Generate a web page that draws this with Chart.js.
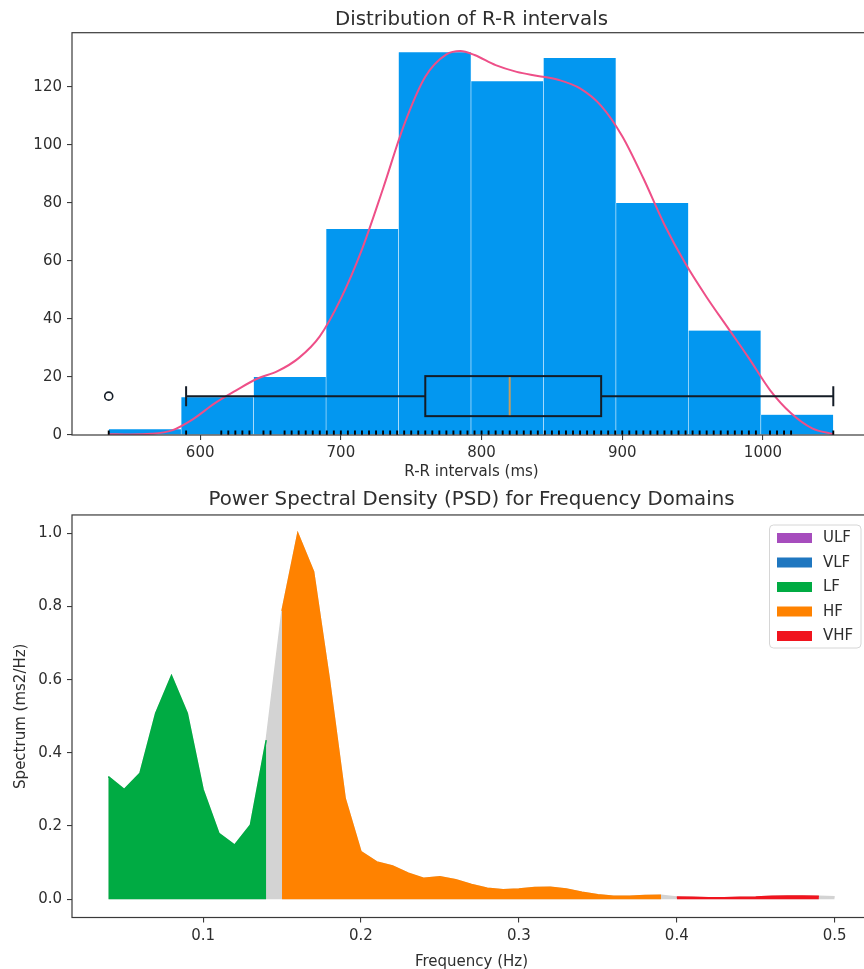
<!DOCTYPE html>
<html>
<head>
<meta charset="utf-8">
<script src="https://cdn.jsdelivr.net/npm/chart.js@4.4.1/dist/chart.umd.min.js"></script>
<style>
  html, body { margin: 0; padding: 0; background: #fff; overflow: hidden; }
  #wrap { position: relative; width: 864px; height: 969px; overflow: hidden; background: #fff; }
  canvas { position: absolute; left: 0; }
  #rr { top: 0; }
  #psd { top: 482px; }
</style>
</head>
<body>
<div id="wrap">
  <canvas id="rr" width="872" height="482"></canvas>
  <canvas id="psd" width="872" height="490"></canvas>
</div>
<script>
// ---------- R-R interval distribution ----------
const binEdges  = [535, 586.5, 638, 689.5, 741, 792.5, 844, 895.5, 947, 998.5, 1050];
const binCounts = [2, 13, 20, 71, 132, 122, 130, 80, 36, 7];

// kernel density estimate, scaled to counts
const kdeX = [535, 550, 565, 580, 595, 610, 625, 640, 655, 670, 685, 700, 715, 730, 745, 760, 775, 785,
              795, 810, 825, 840, 855, 870, 885, 900, 915, 930, 945, 960, 975, 990, 1005, 1020, 1035, 1050];
const kdeY = [0.3, 0.2, 0.4, 1.6, 5.5, 10.8, 15.2, 19.3, 22, 26.5, 34, 47, 64, 85, 107, 123.5, 131.2, 132.4,
              131, 127.5, 125.2, 123.8, 122.4, 119.5, 113.5, 103, 88.5, 72.5, 59, 47.5, 37, 26.5, 15.5, 7.5, 2.3, 0.3];

// box plot summary (ms)
const boxStats = { whiskerLow: 590, q1: 760, median: 820, q3: 885, whiskerHigh: 1050 };
const outliers = [535];

// individual R-R values shown as rug ticks (ms)
const rugValues = [535, 590, 615, 620, 625, 630, 635, 645, 650, 660, 665, 670, 675, 680, 685, 690, 695,
  700, 705, 710, 715, 720, 725, 730, 735, 740, 745, 750, 755, 760, 765, 770, 775, 780, 785, 790, 795,
  800, 805, 810, 815, 820, 825, 830, 835, 840, 845, 850, 855, 860, 865, 870, 875, 880, 885, 890, 895,
  900, 905, 910, 915, 920, 925, 930, 935, 940, 945, 950, 955, 960, 965, 970, 975, 980, 985, 990, 995,
  1005, 1010, 1015, 1020, 1050];

const rrTicksX = [600, 700, 800, 900, 1000];
const rrTicksY = [0, 20, 40, 60, 80, 100, 120];

// ---------- Power spectral density ----------
const freqHz = [0.04, 0.05, 0.06, 0.07, 0.08, 0.09, 0.10, 0.11, 0.12, 0.13, 0.14, 0.15, 0.16, 0.17, 0.18,
  0.19, 0.20, 0.21, 0.22, 0.23, 0.24, 0.25, 0.26, 0.27, 0.28, 0.29, 0.30, 0.31, 0.32, 0.33, 0.34, 0.35,
  0.36, 0.37, 0.38, 0.39, 0.40, 0.41, 0.42, 0.43, 0.44, 0.45, 0.46, 0.47, 0.48, 0.49, 0.50];
const psdPower = [0.335, 0.300, 0.344, 0.508, 0.611, 0.508, 0.300, 0.180, 0.148, 0.203, 0.435, 0.788, 1.000,
  0.895, 0.600, 0.275, 0.130, 0.102, 0.091, 0.071, 0.057, 0.061, 0.053, 0.040, 0.030, 0.026, 0.028, 0.032,
  0.033, 0.028, 0.019, 0.012, 0.008, 0.008, 0.010, 0.011, 0.006, 0.005, 0.004, 0.004, 0.005, 0.006, 0.008,
  0.009, 0.009, 0.008, 0.007];

const bandNames  = ['ULF', 'VLF', 'LF', 'HF', 'VHF'];
const bandLimits = [[0, 0.003], [0.003, 0.04], [0.04, 0.15], [0.15, 0.4], [0.4, 0.5]];

const psdTicksX = [0.1, 0.2, 0.3, 0.4, 0.5];
const psdTicksY = [0.0, 0.2, 0.4, 0.6, 0.8, 1.0];

// ---------- styling ----------
const FONT = "'DejaVu Sans', 'Liberation Sans', sans-serif";
const TEXT = '#2e2e2e';
const AXIS = '#3a3a3a';
const BAND_COLORS = ['#a64dbd', '#1f77c0', '#00ab43', '#ff8200', '#f0141e'];
const REST_COLOR = '#d3d3d3';
const TICK_SIZE = 15;
const LABEL_SIZE = 15;
const TITLE_SIZE = 19.8;

Chart.defaults.font.family = FONT;
Chart.defaults.color = TEXT;

const frame = {
  id: 'frame',
  afterDatasetsDraw(chart, args, o) {
    const { ctx, chartArea: a } = chart;
    ctx.save();
    ctx.strokeStyle = o.color;
    ctx.lineWidth = o.width;
    ctx.strokeRect(a.left, a.top, a.right - a.left, a.bottom - a.top);
    ctx.restore();
  }
};

const rug = {
  id: 'rug',
  afterDatasetsDraw(chart, args, o) {
    const { ctx, scales: { x, y } } = chart;
    const base = y.getPixelForValue(0);
    ctx.save();
    ctx.strokeStyle = o.color;
    ctx.lineWidth = o.width;
    ctx.beginPath();
    rugValues.forEach(v => {
      const px = x.getPixelForValue(v);
      ctx.moveTo(px, base);
      ctx.lineTo(px, base - o.length);
    });
    ctx.stroke();
    ctx.restore();
  }
};

const boxPlot = {
  id: 'boxPlot',
  afterDatasetsDraw(chart, args, o) {
    const { ctx, scales: { x, y } } = chart;
    const px = v => x.getPixelForValue(v);
    const yc = y.getPixelForValue(o.center);
    const yt = y.getPixelForValue(o.center + o.halfHeight);
    const yb = y.getPixelForValue(o.center - o.halfHeight);
    const ct = y.getPixelForValue(o.center + o.halfHeight / 2);
    const cb = y.getPixelForValue(o.center - o.halfHeight / 2);
    ctx.save();
    ctx.strokeStyle = o.color;
    ctx.lineWidth = o.lineWidth;
    ctx.beginPath();
    ctx.moveTo(px(boxStats.whiskerLow), yc); ctx.lineTo(px(boxStats.q1), yc);
    ctx.moveTo(px(boxStats.q3), yc); ctx.lineTo(px(boxStats.whiskerHigh), yc);
    ctx.moveTo(px(boxStats.whiskerLow), ct); ctx.lineTo(px(boxStats.whiskerLow), cb);
    ctx.moveTo(px(boxStats.whiskerHigh), ct); ctx.lineTo(px(boxStats.whiskerHigh), cb);
    ctx.stroke();
    ctx.strokeRect(px(boxStats.q1), yt, px(boxStats.q3) - px(boxStats.q1), yb - yt);
    ctx.strokeStyle = o.medianColor;
    ctx.beginPath();
    ctx.moveTo(px(boxStats.median), yt + 1); ctx.lineTo(px(boxStats.median), yb - 1);
    ctx.stroke();
    ctx.strokeStyle = o.color;
    ctx.lineWidth = o.flierWidth;
    outliers.forEach(v => {
      ctx.beginPath();
      ctx.arc(px(v), yc, o.flierRadius, 0, Math.PI * 2);
      ctx.stroke();
    });
    ctx.restore();
  }
};

const bandLegend = {
  id: 'bandLegend',
  afterDraw(chart, args, o) {
    const { ctx } = chart;
    ctx.save();
    ctx.beginPath();
    ctx.roundRect(o.left, o.top, o.width, o.height, 4);
    ctx.fillStyle = 'rgba(255,255,255,0.85)';
    ctx.fill();
    ctx.strokeStyle = '#d6d6d6';
    ctx.lineWidth = 1;
    ctx.stroke();
    ctx.font = `${o.fontSize}px ${FONT}`;
    ctx.textBaseline = 'middle';
    ctx.textAlign = 'left';
    bandNames.forEach((name, i) => {
      const cy = o.firstRow + i * o.rowStep;
      ctx.fillStyle = BAND_COLORS[i];
      ctx.fillRect(o.patchLeft, cy - o.patchH / 2, o.patchW, o.patchH);
      ctx.fillStyle = TEXT;
      ctx.fillText(name, o.textLeft, cy + 0.5);
    });
    ctx.restore();
  }
};

const tickGrid = { drawOnChartArea: false, drawTicks: true, tickLength: 5, color: AXIS, lineWidth: 1.1 };

// ---------- chart 1: histogram + KDE + box plot + rug ----------
new Chart(document.getElementById('rr'), {
  type: 'bar',
  data: {
    datasets: [
      {
        type: 'line',
        data: kdeX.map((v, i) => ({ x: v, y: kdeY[i] })),
        borderColor: '#ee4f88',
        borderWidth: 2,
        pointRadius: 0,
        tension: 0.4,
        cubicInterpolationMode: 'monotone',
        fill: false
      },
      {
        type: 'bar',
        data: binCounts.map((c, i) => ({ x: (binEdges[i] + binEdges[i + 1]) / 2, y: c })),
        backgroundColor: '#0397f0',
        borderColor: '#d8f0ff',
        borderWidth: { left: 0.6, right: 0.6, top: 0, bottom: 0 },
        borderSkipped: false,
        barPercentage: 1,
        categoryPercentage: 1
      }
    ]
  },
  options: {
    responsive: false,
    animation: false,
    events: [],
    layout: { padding: { left: 0, right: 1, top: 0, bottom: 0 } },
    plugins: {
      legend: { display: false },
      tooltip: { enabled: false },
      title: {
        display: true,
        fullSize: false,
        text: 'Distribution of R-R intervals',
        font: { size: TITLE_SIZE, weight: 'normal' },
        color: TEXT,
        padding: { top: 7.6, bottom: 1.34 }
      },
      frame: { color: AXIS, width: 1.2 },
      rug: { color: '#000', width: 1.9, length: 4.5 },
      boxPlot: { center: 13.4, halfHeight: 6.9, color: '#141c26', lineWidth: 2, medianColor: '#c99d5c',
                 flierRadius: 4, flierWidth: 1.6 }
    },
    scales: {
      x: {
        type: 'linear',
        min: 508.9,
        max: 1076.8,
        offset: false,
        afterFit: s => { s.height = 47; },
        afterBuildTicks: s => { s.ticks = rrTicksX.map(v => ({ value: v })); },
        ticks: { font: { size: TICK_SIZE }, color: TEXT, padding: 4.3, maxRotation: 0, autoSkip: false,
                 callback: v => String(v) },
        grid: { ...tickGrid, offset: false },
        border: { display: false },
        title: { display: true, text: 'R-R intervals (ms)', font: { size: LABEL_SIZE }, color: TEXT,
                 padding: { top: 0, bottom: 1 } }
      },
      y: {
        type: 'linear',
        min: 0,
        max: 138.7,
        afterFit: s => { s.width = 72; },
        afterBuildTicks: s => { s.ticks = rrTicksY.map(v => ({ value: v })); },
        ticks: { font: { size: TICK_SIZE }, color: TEXT, padding: 5, callback: v => String(v) },
        grid: tickGrid,
        border: { display: false }
      }
    }
  },
  plugins: [rug, boxPlot, frame]
});

// ---------- chart 2: PSD with frequency bands ----------
const bandSets = bandNames.map((name, i) => {
  const [lo, hi] = bandLimits[i];
  const pts = [];
  freqHz.forEach((f, k) => { if (f >= lo && f < hi) pts.push({ x: f, y: psdPower[k] }); });
  return {
    label: name,
    data: pts,
    backgroundColor: BAND_COLORS[i],
    borderColor: BAND_COLORS[i],
    borderWidth: 1.5,
    pointRadius: 0,
    tension: 0,
    fill: 'origin'
  };
});

new Chart(document.getElementById('psd'), {
  type: 'line',
  data: {
    datasets: [
      ...bandSets,
      {
        label: 'rest',
        data: freqHz.map((f, k) => ({ x: f, y: psdPower[k] })),
        backgroundColor: REST_COLOR,
        borderColor: REST_COLOR,
        borderWidth: 1.5,
        pointRadius: 0,
        tension: 0,
        fill: 'origin'
      }
    ]
  },
  options: {
    responsive: false,
    animation: false,
    events: [],
    layout: { padding: { left: 0, right: 1, top: 0, bottom: 0 } },
    plugins: {
      legend: { display: false },
      tooltip: { enabled: false },
      title: {
        display: true,
        fullSize: false,
        text: 'Power Spectral Density (PSD) for Frequency Domains',
        font: { size: TITLE_SIZE, weight: 'normal' },
        color: TEXT,
        padding: { top: 6.1, bottom: 3.1 }
      },
      frame: { color: AXIS, width: 1.2 },
      bandLegend: { left: 769.5, top: 43, width: 91.5, height: 123, firstRow: 56, rowStep: 24.5,
                    patchLeft: 777, patchW: 35, patchH: 10, textLeft: 823, fontSize: 15 }
    },
    scales: {
      x: {
        type: 'linear',
        min: 0.017,
        max: 0.523,
        afterFit: s => { s.height = 54.5; },
        afterBuildTicks: s => { s.ticks = psdTicksX.map(v => ({ value: v })); },
        ticks: { font: { size: TICK_SIZE }, color: TEXT, padding: 4.3, maxRotation: 0, autoSkip: false,
                 callback: v => v.toFixed(1) },
        grid: tickGrid,
        border: { display: false },
        title: { display: true, text: 'Frequency (Hz)', font: { size: LABEL_SIZE }, color: TEXT,
                 padding: { top: 0, bottom: 1.3 } }
      },
      y: {
        type: 'linear',
        min: -0.05,
        max: 1.05,
        afterFit: s => { s.width = 72; },
        afterBuildTicks: s => { s.ticks = psdTicksY.map(v => ({ value: v })); },
        ticks: { font: { size: TICK_SIZE }, color: TEXT, padding: 5, callback: v => v.toFixed(1) },
        grid: tickGrid,
        border: { display: false },
        title: { display: true, text: 'Spectrum (ms2/Hz)', font: { size: LABEL_SIZE }, color: TEXT,
                 padding: { top: 12, bottom: 0 } }
      }
    }
  },
  plugins: [frame, bandLegend]
});
</script>
</body>
</html>
